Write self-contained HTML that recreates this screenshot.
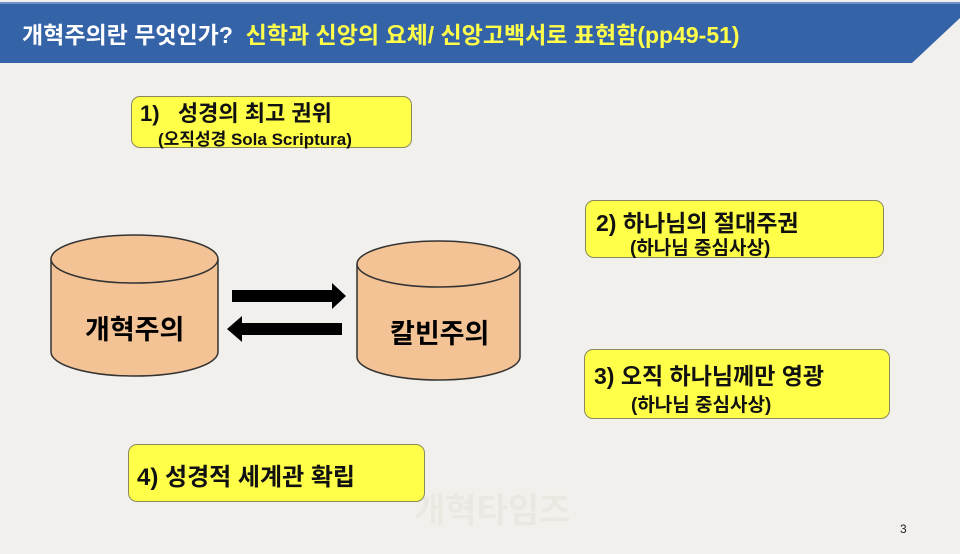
<!DOCTYPE html>
<html><head><meta charset="utf-8"><style>
body{margin:0;width:960px;height:554px;background:#f2f0ec;position:relative;overflow:hidden;font-family:"Liberation Sans","Noto Sans CJK KR",sans-serif}
.box{position:absolute;background:#ffff4a;border:1.5px solid #8a8a5a;border-radius:9px;box-sizing:border-box;color:#111}
.t{position:absolute;font-weight:bold;white-space:nowrap}
</style></head><body>
<svg width="960" height="554" style="position:absolute;left:0;top:0">
<polygon points="0,3 960,3 960,18 912,63 0,63" fill="#3463a8"/>
<line x1="0" y1="3" x2="960" y2="3" stroke="#6f93c9" stroke-width="2"/>
<g fill="#f3c295" stroke="#333" stroke-width="1.5">
<path d="M51,259 L51,352 A83.5,24 0 0 0 218,352 L218,259"/>
<ellipse cx="134.5" cy="259" rx="83.5" ry="24"/>
<path d="M357,264 L357,357 A81.5,23 0 0 0 520,357 L520,264"/>
<ellipse cx="438.5" cy="264" rx="81.5" ry="23"/>
</g>
<polygon points="232,290 332,290 332,283 346,296 332,309 332,302 232,302" fill="#000"/>
<polygon points="342,323 242,323 242,316 227,329 242,342 242,335 342,335" fill="#000"/>
<text x="414" y="522" font-size="34" fill="#ebe8e2" font-weight="bold" font-family="Liberation Sans,Noto Sans CJK KR,sans-serif">개혁타임즈</text>
<text x="900" y="533" font-size="12" fill="#222" font-family="Liberation Sans,sans-serif">3</text>
</svg>
<div class="t" style="left:22px;top:16px;font-size:23px;color:#fff">개혁주의란 무엇인가? <span style="color:#ffff4a">&nbsp;신학과 신앙의 요체/ 신앙고백서로 표현함(pp49-51)</span></div>
<div class="t" style="left:85px;top:308px;font-size:27px">개혁주의</div>
<div class="t" style="left:390px;top:312px;font-size:27px">칼빈주의</div>
<div class="box" style="left:131px;top:96px;width:281px;height:52px">
<div class="t" style="left:8px;top:-1px;font-size:22px">1)&nbsp;&nbsp; 성경의 최고 권위</div>
<div class="t" style="left:26px;top:28px;font-size:17px">(오직성경 Sola Scriptura)</div></div>
<div class="box" style="left:585px;top:200px;width:299px;height:58px">
<div class="t" style="left:10px;top:3px;font-size:23px">2) 하나님의 절대주권</div>
<div class="t" style="left:44px;top:32px;font-size:19px">(하나님 중심사상)</div></div>
<div class="box" style="left:584px;top:349px;width:306px;height:70px">
<div class="t" style="left:9px;top:7px;font-size:23px">3) 오직 하나님께만 영광</div>
<div class="t" style="left:46px;top:40px;font-size:19px">(하나님 중심사상)</div></div>
<div class="box" style="left:128px;top:444px;width:297px;height:58px">
<div class="t" style="left:8px;top:12px;font-size:24px">4) 성경적 세계관 확립</div></div>
</body></html>
